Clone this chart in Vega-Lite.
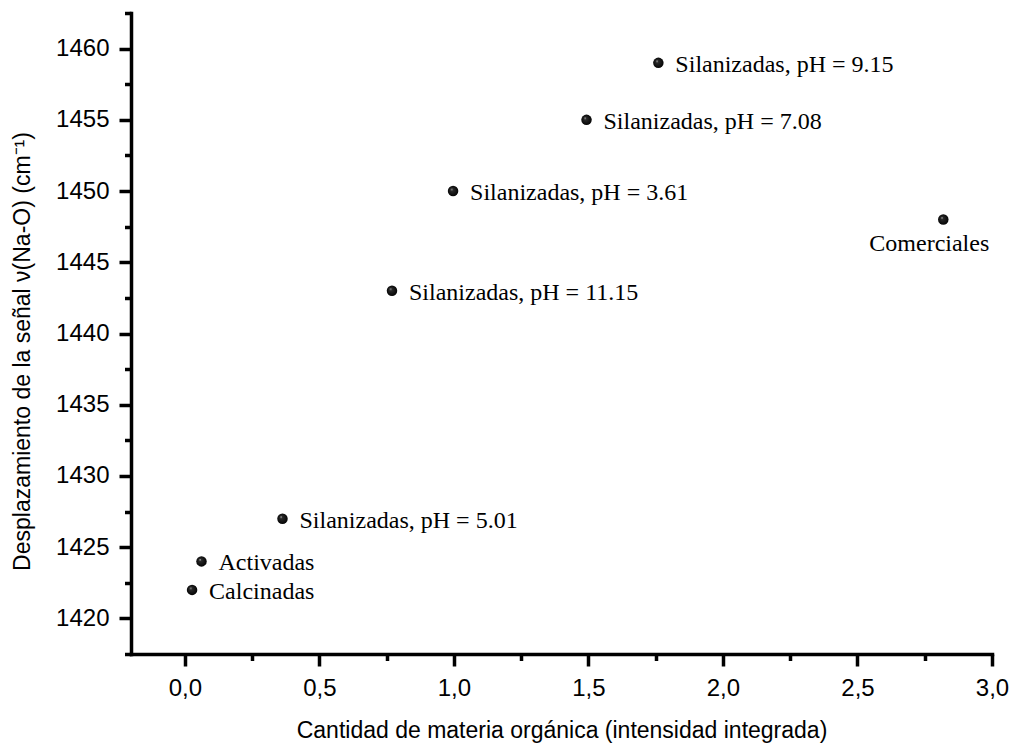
{
  "$schema": "https://vega.github.io/schema/vega-lite/v6.json",
  "width": 861,
  "height": 641,
  "autosize": {"type": "none"},
  "padding": {"left": 131, "top": 13, "right": 23, "bottom": 93},
  "background": "white",
  "config": {
    "view": {"stroke": null},
    "axis": {
      "domainColor": "black",
      "domainWidth": 3.5,
      "domainCap": "square",
      "tickColor": "black",
      "tickWidth": 3.5,
      "grid": false,
      "labelFont": "Liberation Sans",
      "labelFontSize": 24,
      "labelColor": "black",
      "labelOverlap": false,
      "labelFlush": false,
      "titleFont": "Liberation Sans",
      "titleFontSize": 23,
      "titleFontWeight": "normal",
      "titleColor": "black"
    }
  },
  "data": {
    "values": [
      {"muestra": "Calcinadas", "organica": 0.027, "desplazamiento": 1422},
      {"muestra": "Activadas", "organica": 0.062, "desplazamiento": 1424},
      {"muestra": "Silanizadas, pH = 5.01", "organica": 0.363, "desplazamiento": 1427},
      {"muestra": "Silanizadas, pH = 11.15", "organica": 0.77, "desplazamiento": 1443},
      {"muestra": "Silanizadas, pH = 3.61", "organica": 0.997, "desplazamiento": 1450},
      {"muestra": "Silanizadas, pH = 7.08", "organica": 1.493, "desplazamiento": 1455},
      {"muestra": "Silanizadas, pH = 9.15", "organica": 1.76, "desplazamiento": 1459},
      {"muestra": "Comerciales", "organica": 2.819, "desplazamiento": 1448}
    ]
  },
  "encoding": {
    "x": {
      "field": "organica",
      "type": "quantitative",
      "scale": {"domain": [-0.2, 3.0], "nice": false, "zero": false},
      "axis": {
        "title": "Cantidad de materia orgánica (intensidad integrada)",
        "values": [0, 0.25, 0.5, 0.75, 1, 1.25, 1.5, 1.75, 2, 2.25, 2.5, 2.75, 3],
        "labelExpr": "abs(datum.value * 2 - round(datum.value * 2)) < 0.001 ? replace(format(datum.value, '.1f'), '.', ',') : ''",
        "tickSize": {"condition": {"test": "abs(datum.value * 2 - round(datum.value * 2)) < 0.001", "value": 12}, "value": 6.5},
        "labelPadding": 10,
        "titlePadding": 19
      }
    },
    "y": {
      "field": "desplazamiento",
      "type": "quantitative",
      "scale": {"domain": [1417.5, 1462.5], "nice": false, "zero": false},
      "axis": {
        "title": "Desplazamiento de la señal ν(Na-O) (cm⁻¹)",
        "values": [1417.5, 1420, 1422.5, 1425, 1427.5, 1430, 1432.5, 1435, 1437.5, 1440, 1442.5, 1445, 1447.5, 1450, 1452.5, 1455, 1457.5, 1460, 1462.5],
        "labelExpr": "datum.value % 5 == 0 ? format(datum.value, 'd') : ''",
        "tickSize": {"condition": {"test": "datum.value % 5 == 0", "value": 12}, "value": 6.5},
        "labelPadding": 10,
        "titlePadding": 21,
        "titleY": 338
      }
    }
  },
  "layer": [
    {
      "mark": {
        "type": "point",
        "shape": "circle",
        "filled": true,
        "size": 110,
        "opacity": 1,
        "color": {
          "gradient": "radial",
          "x1": 0.36, "y1": 0.33, "r1": 0,
          "x2": 0.5, "y2": 0.5, "r2": 0.55,
          "stops": [
            {"offset": 0, "color": "#c0c0c0"},
            {"offset": 0.22, "color": "#2a2a2a"},
            {"offset": 1, "color": "#000000"}
          ]
        }
      }
    },
    {
      "transform": [{"filter": "datum.muestra != 'Comerciales'"}],
      "mark": {
        "type": "text",
        "align": "left",
        "baseline": "middle",
        "dx": 17,
        "dy": 2,
        "font": "Liberation Serif",
        "fontSize": 24,
        "color": "black"
      },
      "encoding": {"text": {"field": "muestra"}}
    },
    {
      "transform": [{"filter": "datum.muestra == 'Comerciales'"}],
      "mark": {
        "type": "text",
        "align": "center",
        "baseline": "top",
        "dx": -14,
        "dy": 12,
        "font": "Liberation Serif",
        "fontSize": 24,
        "color": "black"
      },
      "encoding": {"text": {"field": "muestra"}}
    }
  ]
}
